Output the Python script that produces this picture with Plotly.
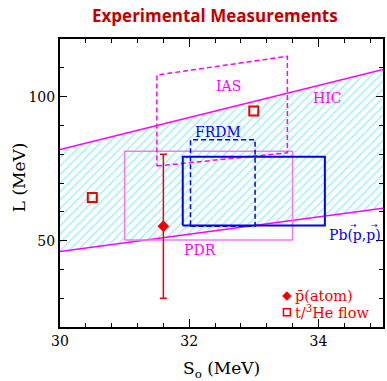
import plotly.graph_objects as go

# ---------------- data ----------------
hic_S = [30.0, 35.0]
hic_upper = [81.6, 109.4]
hic_lower = [46.2, 61.2]

ias_S = [31.5, 33.52]
ias_top = [107.5, 114.0]
ias_bottom = [75.9, 80.5]

frdm_S = [32.02, 33.02]
frdm_L = [55.0, 85.0]

pb_S = [31.9, 34.1]
pb_L = [55.2, 79.1]

pdr_S = [31.0, 33.6]
pdr_L = [50.2, 81.0]

atom_S = [31.6]
atom_L = [55.0]
atom_err = [25.0]

flow_S = [30.5, 33.0]
flow_L = [65.0, 95.0]

label_text = ["IAS", "HIC", "FRDM", "PDR", "Pb(p,p)"]
label_S = [32.61, 34.14, 32.44, 32.16, 34.56]
label_L = [103.8, 99.5, 87.7, 46.7, 52.0]
label_col = ["#ff00ff", "#ff00ff", "#0000ee", "#ff00ff", "#0000ee"]

x_range = [30, 35]
y_range = [20, 120]

MAG = "#ff00ff"
BLUE = "#0000ee"
RED = "#ee0000"
SERIF = "DejaVu Serif"

fig = go.Figure()

# HIC hatched band
fig.add_trace(go.Scatter(
    x=hic_S + hic_S[::-1], y=hic_lower + hic_upper[::-1],
    fill="toself", mode="lines", line=dict(width=0, color="rgba(0,0,0,0)"),
    fillcolor="rgba(0,0,0,0)",
    fillpattern=dict(shape="/", fgcolor="#22dcf0", bgcolor="rgba(0,0,0,0)", size=6, solidity=0.2),
    hoverinfo="skip", showlegend=False))
for yy in (hic_upper, hic_lower):
    fig.add_trace(go.Scatter(x=hic_S, y=yy, mode="lines", line=dict(color=MAG, width=1.5),
                             showlegend=False))

# PDR box
fig.add_trace(go.Scatter(
    x=[pdr_S[0], pdr_S[1], pdr_S[1], pdr_S[0], pdr_S[0]],
    y=[pdr_L[0], pdr_L[0], pdr_L[1], pdr_L[1], pdr_L[0]],
    mode="lines", line=dict(color="#f07af0", width=1.5), showlegend=False))

# IAS dashed parallelogram
fig.add_trace(go.Scatter(
    x=[ias_S[0], ias_S[1], ias_S[1], ias_S[0], ias_S[0]],
    y=[ias_bottom[0], ias_bottom[1], ias_top[1], ias_top[0], ias_bottom[0]],
    mode="lines", line=dict(color=MAG, width=1.5, dash="5px,3px"), showlegend=False))

# FRDM dashed box
fig.add_trace(go.Scatter(
    x=[frdm_S[0], frdm_S[1], frdm_S[1], frdm_S[0], frdm_S[0]],
    y=[frdm_L[0], frdm_L[0], frdm_L[1], frdm_L[1], frdm_L[0]],
    mode="lines", line=dict(color=BLUE, width=1.5, dash="5px,3px"), showlegend=False))

# Pb(p,p) box
fig.add_trace(go.Scatter(
    x=[pb_S[0], pb_S[1], pb_S[1], pb_S[0], pb_S[0]],
    y=[pb_L[0], pb_L[0], pb_L[1], pb_L[1], pb_L[0]],
    mode="lines", line=dict(color=BLUE, width=2), showlegend=False))

# antiproton atom point
fig.add_trace(go.Scatter(
    x=atom_S, y=atom_L, mode="markers",
    marker=dict(symbol="diamond", size=9, color=RED),
    error_y=dict(type="data", array=atom_err, color=RED, thickness=1.5, width=3.5),
    showlegend=False))

# t/3He flow squares
fig.add_trace(go.Scatter(
    x=flow_S, y=flow_L, mode="markers",
    marker=dict(symbol="square-open", size=9, color=RED, line=dict(width=2, color=RED)),
    showlegend=False))

annotations = []
for t, sx, ly, c in zip(label_text, label_S, label_L, label_col):
    annotations.append(dict(x=sx, y=ly, xref="x", yref="y", text=t, showarrow=False,
                            xanchor="center", yanchor="middle",
                            font=dict(family=SERIF, size=14, color=c)))
# vector arrows over the two p's of Pb(p,p)
for xs in (-1.5, 19.5):
    annotations.append(dict(x=label_S[4], y=label_L[4], xref="x", yref="y", text="\u2192",
                            xshift=xs, yshift=9, showarrow=False, xanchor="center", yanchor="middle",
                            font=dict(family="DejaVu Sans", size=8, color=BLUE)))

# title & axis titles
annotations.append(dict(x=0.479, y=1.081, xref="paper", yref="paper", text="<b>Experimental Measurements</b>",
                        xanchor="center", yanchor="middle",
                        showarrow=False, font=dict(family="Open Sans", size=17, color="#c00000")))
annotations.append(dict(x=-0.126, y=0.521, xref="paper", yref="paper", text="L (MeV)", textangle=-90,
                        xanchor="center", yanchor="middle",
                        showarrow=False, font=dict(family=SERIF, size=17, color="black")))
annotations.append(dict(x=0.5015, y=-0.146, xref="paper", yref="paper", text="S<sub>o</sub> (MeV)",
                        xanchor="center", yanchor="middle",
                        showarrow=False, font=dict(family=SERIF, size=17, color="black")))

# legend text
annotations.append(dict(x=0.72, y=0.1076, xref="paper", yref="paper", text="p\u0304(atom)",
                        xanchor="left", yanchor="middle",
                        showarrow=False, font=dict(family=SERIF, size=14.5, color=RED)))
annotations.append(dict(x=0.72, y=0.051, xref="paper", yref="paper", text="t/<sup>3</sup>He flow",
                        xanchor="left", yanchor="middle",
                        showarrow=False, font=dict(family=SERIF, size=14.5, color=RED)))

# legend keys (paper coords)
dx, dy = 4.5 / 325.0, 4.5 / 288.0
cx, cy1, cy2 = 0.7025, 0.1076, 0.051
shapes = [
    dict(type="path", xref="paper", yref="paper",
         path=f"M {cx-dx} {cy1} L {cx} {cy1+dy} L {cx+dx} {cy1} L {cx} {cy1-dy} Z",
         fillcolor=RED, line=dict(color=RED, width=0.5)),
    dict(type="rect", xref="paper", yref="paper",
         x0=cx - 3.5 / 325, x1=cx + 3.5 / 325, y0=cy2 - 3.5 / 288, y1=cy2 + 3.5 / 288,
         line=dict(color=RED, width=1.5)),
]

axis_common = dict(showline=True, linewidth=2, linecolor="black", mirror="allticks",
                   ticks="inside", tickcolor="black", tickwidth=1.2, showgrid=False, zeroline=False,
                   tickfont=dict(family=SERIF, size=14, color="black"))

fig.update_layout(
    width=387, height=381,
    margin=dict(l=60, r=2, t=39, b=54),
    paper_bgcolor="white", plot_bgcolor="white",
    showlegend=False,
    annotations=annotations, shapes=shapes,
    xaxis=dict(range=x_range, tick0=30, dtick=2, ticklen=8,
               minor=dict(dtick=0.4, tick0=30, ticklen=4, ticks="inside", tickcolor="black", tickwidth=1),
               **axis_common),
    yaxis=dict(range=y_range, tick0=0, dtick=50, ticklen=7,
               minor=dict(dtick=10, tick0=0, ticklen=4, ticks="inside", tickcolor="black", tickwidth=1),
               **axis_common),
)

fig.write_html("out.html", config={"displayModeBar": False},
               post_script="document.body.style.margin='0px';document.body.style.overflow='hidden';")
